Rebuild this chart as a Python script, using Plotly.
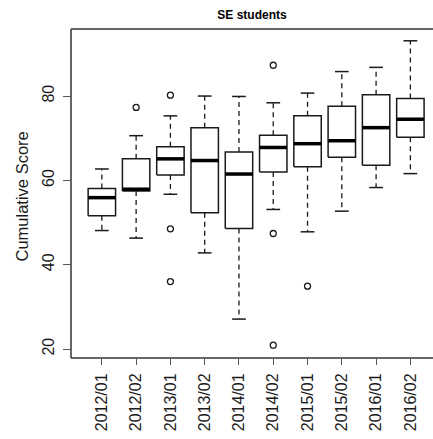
import plotly.graph_objects as go

categories = ["2012/01", "2012/02", "2013/01", "2013/02", "2014/01",
              "2014/02", "2015/01", "2015/02", "2016/01", "2016/02"]
lower_whisker = [48.1, 46.3, 56.7, 42.8, 27.1, 53.1, 47.8, 52.7, 58.3, 61.6]
q1 = [51.6, 57.5, 61.3, 52.3, 48.6, 62.0, 63.2, 65.5, 63.6, 70.2]
median = [55.9, 57.9, 65.1, 64.7, 61.5, 67.8, 68.7, 69.4, 72.5, 74.5]
q3 = [58.1, 65.1, 68.0, 72.5, 66.7, 70.7, 75.3, 77.6, 80.3, 79.4]
upper_whisker = [62.7, 70.6, 75.3, 80.0, 79.9, 78.4, 80.7, 85.8, 86.8, 93.1]
outliers = {
    "2012/02": [77.3],
    "2013/01": [80.2, 48.5, 36.0],
    "2014/02": [87.3, 47.4, 20.9],
    "2015/01": [34.9],
}

BOX_HALF = 0.4
CAP_HALF = 0.2
LINE = "#1a1a1a"

bx, by, mx, my, wx, wy, cx, cy = [], [], [], [], [], [], [], []
for i, c in enumerate(categories):
    p = i + 1
    bx += [p - BOX_HALF, p + BOX_HALF, p + BOX_HALF, p - BOX_HALF, p - BOX_HALF, None]
    by += [q1[i], q1[i], q3[i], q3[i], q1[i], None]
    mx += [p - BOX_HALF, p + BOX_HALF, None]
    my += [median[i], median[i], None]
    wx += [p, p, None, p, p, None]
    wy += [q3[i], upper_whisker[i], None, q1[i], lower_whisker[i], None]
    cx += [p - CAP_HALF, p + CAP_HALF, None, p - CAP_HALF, p + CAP_HALF, None]
    cy += [upper_whisker[i], upper_whisker[i], None, lower_whisker[i], lower_whisker[i], None]

ox, oy = [], []
for c, vals in outliers.items():
    p = categories.index(c) + 1
    for v in vals:
        ox.append(p)
        oy.append(v)

fig = go.Figure()
fig.add_trace(go.Scatter(x=wx, y=wy, mode="lines",
                         line=dict(color=LINE, width=1.3, dash="5px,4px"), hoverinfo="skip"))
fig.add_trace(go.Scatter(x=cx, y=cy, mode="lines",
                         line=dict(color=LINE, width=1.5), hoverinfo="skip"))
fig.add_trace(go.Scatter(x=bx, y=by, mode="lines", fill="toself", fillcolor="white",
                         line=dict(color=LINE, width=1.5), hoverinfo="skip"))
fig.add_trace(go.Scatter(x=mx, y=my, mode="lines",
                         line=dict(color="black", width=3.5), hoverinfo="skip"))
fig.add_trace(go.Scatter(x=ox, y=oy, mode="markers",
                         marker=dict(symbol="circle-open", size=6, color=LINE,
                                     line=dict(width=1.3)), hoverinfo="skip"))

font_family = "Liberation Sans, Arial, sans-serif"
fig.update_layout(
    width=433, height=439,
    margin=dict(l=71, r=0, t=29, b=81),
    paper_bgcolor="white", plot_bgcolor="white",
    showlegend=False,
    font=dict(family=font_family, color="#1a1a1a"),
    title=dict(text="<b>SE students</b>", font=dict(size=12, color="black"),
               x=0.5, xref="paper", xanchor="center",
               y=1 - 15 / 439, yref="container", yanchor="middle"),
    xaxis=dict(range=[0.1, 10.66], tickmode="array",
               tickvals=list(range(1, len(categories) + 1)), ticktext=categories,
               tickangle=-90, ticks="outside", ticklen=6, tickcolor="#555",
               tickfont=dict(size=16), showgrid=False, zeroline=False, showline=False,
               automargin=False, ticklabelstandoff=2),
    yaxis=dict(range=[17.87, 95.9], tickvals=[20, 40, 60, 80],
               tickangle=-90, ticks="outside", ticklen=7, tickcolor="#555",
               tickfont=dict(size=16), showgrid=False, zeroline=False, showline=False,
               automargin=False, ticklabelstandoff=3),
    shapes=[
        dict(type="line", xref="paper", yref="paper", x0=0, x1=1, y0=1, y1=1,
             line=dict(color="#333", width=1.5)),
        dict(type="line", xref="paper", yref="paper", x0=0, x1=1, y0=0, y1=0,
             line=dict(color="#333", width=1.5)),
        dict(type="line", xref="paper", yref="paper", x0=0, x1=0, y0=0, y1=1,
             line=dict(color="#333", width=1.5)),
    ],
    annotations=[
        dict(text="Cumulative Score", xref="paper", yref="paper",
             x=(21.7 - 71) / 362, y=0.49, xanchor="center", yanchor="middle",
             textangle=-90, showarrow=False, font=dict(size=16.5, color="#1a1a1a")),
    ],
)

fig.write_html("out.html", config={"staticPlot": True},
               post_script="document.body.style.margin='0';document.body.style.overflow='hidden';")
